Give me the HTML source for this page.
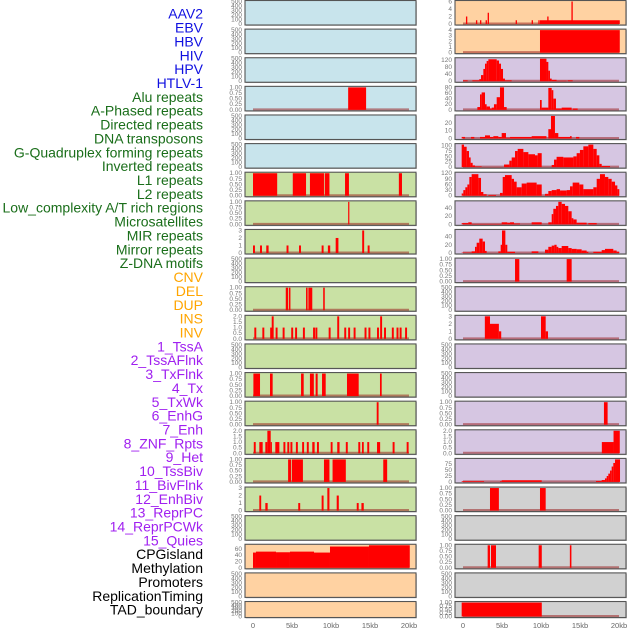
<!DOCTYPE html>
<html><head><meta charset="utf-8"><style>
html,body{margin:0;padding:0;background:#fff;width:630px;height:630px;overflow:hidden}
svg{display:block;font-family:"Liberation Sans",sans-serif}
</style></head><body>
<svg id="chart" width="630" height="630" viewBox="0 0 630 630"></svg>
<script>
const labelNames=["AAV2","EBV","HBV","HIV","HPV","HTLV-1","Alu repeats","A-Phased repeats","Directed repeats","DNA transposons","G-Quadruplex forming repeats","Inverted repeats","L1 repeats","L2 repeats","Low_complexity A/T rich regions","Microsatellites","MIR repeats","Mirror repeats","Z-DNA motifs","CNV","DEL","DUP","INS","INV","1_TssA","2_TssAFlnk","3_TxFlnk","4_Tx","5_TxWk","6_EnhG","7_Enh","8_ZNF_Rpts","9_Het","10_TssBiv","11_BivFlnk","12_EnhBiv","13_ReprPC","14_ReprPCWk","15_Quies","CPGisland","Methylation","Promoters","ReplicationTiming","TAD_boundary"];
const labelColors=["#1010e0","#1010e0","#1010e0","#1010e0","#1010e0","#1010e0","#1a6e1a","#1a6e1a","#1a6e1a","#1a6e1a","#1a6e1a","#1a6e1a","#1a6e1a","#1a6e1a","#1a6e1a","#1a6e1a","#1a6e1a","#1a6e1a","#1a6e1a","#ffa500","#ffa500","#ffa500","#ffa500","#ffa500","#a020f0","#a020f0","#a020f0","#a020f0","#a020f0","#a020f0","#a020f0","#a020f0","#a020f0","#a020f0","#a020f0","#a020f0","#a020f0","#a020f0","#a020f0","#000","#000","#000","#000","#000"];
const xTickValues=[0,5,10,15,20];
const xTickLabels=["0","5kb","10kb","15kb","20kb"];
const emptyTicks=[0,100,200,300,400,500];
const unitTicks=[0,0.25,0.5,0.75,1];
// segments: [startKb, endKb, value]
const hivSegments=[[12.2,14.5,1]];
const aluSegments=[[0,3.1,1],[5.1,6.8,1],[7.3,9.1,1],[9.2,9.8,1],[11.8,12.3,1],[18.7,19.1,1]];
const aphasedSegments=[[12.2,12.35,1]];
const directedTicks=[0,1,2,3];
const directedSegments=[[0,0.25,1],[0.9,1.15,1],[1.7,2,1],[4.3,4.55,1],[5.9,6.15,1],[8.8,9.05,1],[9.6,9.9,1],[10.6,10.95,2],[14,14.25,3],[14.7,14.95,1]];
const gquadSegments=[[4.2,4.5,1],[4.6,4.8,1],[6.8,7,1],[7.1,7.6,1],[9,9.2,1]];
const invertedTicks=[0,0.5,1,1.5,2];
const invertedStarts=[0.17,1.2,2.2,2.4,2.9,3.8,4.9,5.4,6.4,7.7,8,9.7,10.8,11.7,12.2,12.9,14.3,14.8,15.9,16.3,16.8,17.8,18.4,18.8,19.5];
const invertedValues=[1,1,1,2,1,1,1,1,1,1,1,1,2,1,1,1,1,1,1,2,1,1,1,1,1];
const l2Segments=[[0.05,0.9,1],[2.18,2.52,1],[6.16,6.5,1],[7.3,7.8,1],[8.03,8.29,1],[8.85,9.32,1],[12.05,13.55,1],[16.28,16.5,1]];
const lowcSegments=[[15.86,16.1,1]];
const microTicks=[0,0.5,1,1.5,2];
const microSegments=[[0.1,0.35,1],[0.81,1.24,1],[1.58,1.84,1],[1.84,2.27,2],[2.27,2.4,1],[2.86,3.38,1],[3.9,4.15,1],[4.4,4.65,1],[4.8,5.05,1],[5.5,5.75,1],[6.3,6.55,1],[6.9,7.15,1],[7.6,7.9,1],[8.2,8.45,1],[9.96,10.2,1],[10.8,11.1,1],[11.9,12.15,1],[13.5,13.75,1],[13.97,14.2,1],[14.65,14.9,1],[15.9,16.3,1],[17.9,18.15,1],[19.7,19.95,1]];
const mirSegments=[[4.5,4.9,1],[5,6.4,1],[9.1,9.8,1],[10.2,11.9,1],[16.7,17.2,1]];
const mirrorTicks=[0,1,2,3];
const mirrorSegments=[[0.81,1.05,2],[1.58,1.88,1],[5.8,6.05,1],[8.8,9.05,2],[9.53,9.8,3],[10.73,11,2],[13.3,13.55,1],[13.9,14.2,1]];
const cnvTicks=[0,20,40,60];
const cnvSegments=[[0,0.38,48],[0.38,2.95,51],[2.95,4.74,49],[4.74,7.82,51],[7.82,9.87,48],[9.87,14.87,67],[14.87,20.1,71]];
const insTicks=[0,2,4,6];
const insSegments=[[9.87,20.1,1],[0.38,0.55,2],[1.66,1.83,1],[2.18,2.35,1],[2.9,3.07,1],[3.16,3.33,3],[6.75,6.92,1],[8.8,8.97,1],[9.66,9.83,1],[10.8,10.97,2],[13.9,14.07,6]];
const invTicks=[0,1,2,3,4];
const invSegments=[[9.87,20.1,4]];
const tssaTicks=[0,40,80,120];
const tssaSegments=[[0,0.6,5],[1.2,2.09,5],[2.09,2.31,12],[2.31,2.61,35],[2.61,2.82,70],[2.82,3.03,100],[3.03,3.25,115],[3.25,4.32,125],[4.32,4.62,118],[4.62,4.87,100],[4.87,5.13,70],[5.13,5.38,15],[5.38,6.24,5],[9.87,10.7,128],[10.7,10.94,110],[10.94,11.15,60],[11.15,11.37,15],[11.37,12,8],[12,13.29,3],[13.42,14.06,5]];
const tssaflnkTicks=[0,20,40,60,80];
const tssaflnkSegments=[[1.84,2.18,10],[2.18,2.39,55],[2.39,2.82,62],[2.82,3.03,20],[3.03,3.46,12],[3.46,3.68,5],[3.68,3.97,8],[3.97,4.32,20],[4.32,4.74,45],[4.74,5.26,80],[5.26,5.6,10],[9.87,10.09,35],[10.09,10.94,8],[10.94,11.37,78],[11.37,11.58,70],[11.58,11.92,40],[11.92,12.65,5],[12.65,13.93,8],[14.06,14.7,5]];
const txflnkTicks=[0,10,20];
const txflnkSegments=[[-0.17,0.26,2],[1.03,1.45,2],[2.18,2.82,2],[2.82,3.46,4],[3.46,3.89,2],[3.89,4.53,3],[4.53,4.96,2],[4.96,5.51,7],[5.51,6.03,1],[6.03,8.8,2],[8.8,10.7,3],[10.94,11.28,12],[11.28,11.79,29],[11.79,12.22,7],[12.22,13.72,2],[13.72,13.93,3],[14.49,14.91,2]];
const txTicks=[0,25,50,75,100];
const txSegments=[[-0.17,0.13,105],[0.13,0.47,95],[0.47,0.77,75],[0.77,0.98,45],[0.98,1.24,20],[1.24,1.54,8],[1.54,2.39,3],[2.39,5.17,0.5],[5.26,5.94,12],[5.94,6.24,30],[6.24,6.67,45],[6.67,7.01,75],[7.01,7.74,85],[7.74,8.38,70],[8.38,9.23,60],[9.23,9.57,55],[9.57,10.09,65],[11.37,11.67,10],[11.67,12,35],[12,12.86,48],[12.86,14.15,45],[14.15,14.57,50],[14.57,14.99,65],[14.99,15.43,80],[15.43,16.07,97],[16.07,16.71,105],[16.71,17.14,85],[17.14,17.48,55],[17.48,17.78,15],[17.78,18.85,5]];
const txwkTicks=[0,30,60,90,120];
const txwkSegments=[[-0.17,0.04,12],[0.04,0.3,30],[0.3,0.56,45],[0.56,0.81,60],[0.81,1.11,100],[1.11,1.97,115],[1.97,2.31,95],[2.31,2.61,20],[2.61,3.03,8],[3.25,4.23,4],[4.74,5.09,15],[5.09,5.38,100],[5.38,6.24,110],[6.24,6.54,90],[6.54,6.88,75],[6.88,7.52,45],[7.52,8.16,65],[8.16,9.44,70],[9.44,10.09,60],[10.51,10.94,10],[10.94,11.37,25],[11.37,12,30],[12,12.44,35],[12.44,13.29,28],[13.29,13.72,30],[13.72,14.06,50],[14.06,14.91,70],[14.91,15.43,60],[15.43,16.71,35],[16.71,17.14,45],[17.14,17.56,90],[17.56,18.2,115],[18.2,18.63,100],[18.63,19.06,90],[19.06,19.49,75],[19.49,19.79,55],[19.79,20.04,35]];
const enhgTicks=[0,20,40];
const enhgSegments=[[-0.17,0.68,3],[0.68,1.11,5],[1.11,4.96,1],[4.96,5.68,5],[5.68,6.03,4],[6.03,6.54,5],[6.54,7.31,2],[8.8,10.09,5],[10.94,11.37,5],[11.37,11.58,25],[11.58,11.92,38],[11.92,12.22,45],[12.22,12.65,55],[12.65,13.08,50],[13.08,13.5,45],[13.5,13.93,32],[13.93,14.15,15],[14.15,14.57,12],[14.57,15.85,4],[16.07,17.14,3]];
const enhTicks=[0,20,40];
const enhSegments=[[-0.17,1.11,1],[1.11,1.54,4],[1.54,1.75,15],[1.75,2.09,25],[2.09,2.52,35],[2.52,2.82,28],[2.82,3.03,5],[4.53,4.83,4],[4.83,5,20],[5,5.43,55],[5.43,5.68,20],[5.68,6.67,3],[8.8,9.66,4],[10.51,10.94,8],[10.94,11.37,15],[11.37,11.71,18],[11.71,12,20],[12,12.22,15],[12.22,12.65,12],[12.65,13.5,17],[13.5,13.93,12],[13.93,14.57,10],[14.57,15.21,9],[15.21,15.85,6],[15.85,16.07,3],[16.71,17.78,3],[17.78,18.2,7],[18.2,19.27,10],[19.27,19.7,6],[19.7,20.04,3]];
const znfSegments=[[6.67,7.22,1],[13.29,13.93,1]];
const tssbivTicks=[0,1,2,3];
const tssbivSegments=[[2.8,3.46,3],[3.46,4.6,2],[4.6,4.9,1],[10,10.6,3],[10.6,10.9,1]];
const reprpcSegments=[[18.07,18.54,1]];
const reprpcwkTicks=[0,0.5,1,1.5,2];
const reprpcwkSegments=[[17.8,19.3,1],[19.3,20.1,2]];
const quiesTicks=[0,25,50,75];
const quiesSegments=[[-0.17,2.7,3],[4.74,4.96,3],[4.96,10.09,7],[17.05,17.78,4],[17.78,18.2,8],[18.2,18.42,15],[18.42,18.63,25],[18.63,18.85,35],[18.85,19.06,48],[19.06,19.27,65],[19.27,19.49,80],[19.49,20.13,95]];
const cpgSegments=[[3.46,4.6,1],[9.87,10.6,1]];
const promoterSegments=[[3.16,3.46,1],[3.59,4.23,1],[9.7,10.1,1],[13.7,13.9,1]];
const tadSegments=[[-0.17,10.1,1]];

const BLUE="#c8e4ec",GREEN="#c9e1a4",ORANGE="#ffd2a2",PURPLE="#d6c6e2",GREY="#d1d1d1";
const leftPanels=[
["aav2",BLUE,emptyTicks,null],["ebv",BLUE,emptyTicks,null],["hbv",BLUE,emptyTicks,null],["hiv",BLUE,unitTicks,hivSegments],["hpv",BLUE,emptyTicks,null],["htlv-1",BLUE,emptyTicks,null],
["alu-repeats",GREEN,unitTicks,aluSegments],["a-phased-repeats",GREEN,unitTicks,aphasedSegments],["directed-repeats",GREEN,directedTicks,directedSegments],["dna-transposons",GREEN,emptyTicks,null],["g-quadruplex",GREEN,unitTicks,gquadSegments],
["inverted-repeats",GREEN,invertedTicks,invertedStarts.map((s,i)=>[s,s+0.25,invertedValues[i]])],["l1-repeats",GREEN,emptyTicks,null],["l2-repeats",GREEN,unitTicks,l2Segments],["low-complexity",GREEN,unitTicks,lowcSegments],["microsatellites",GREEN,microTicks,microSegments],
["mir-repeats",GREEN,unitTicks,mirSegments],["mirror-repeats",GREEN,mirrorTicks,mirrorSegments],["z-dna-motifs",GREEN,emptyTicks,null],["cnv",ORANGE,cnvTicks,cnvSegments],["del",ORANGE,emptyTicks,null],["dup",ORANGE,emptyTicks,null]];
const rightPanels=[
["ins",ORANGE,insTicks,insSegments],["inv",ORANGE,invTicks,invSegments],["tssa",PURPLE,tssaTicks,tssaSegments],["tssaflnk",PURPLE,tssaflnkTicks,tssaflnkSegments],["txflnk",PURPLE,txflnkTicks,txflnkSegments],["tx",PURPLE,txTicks,txSegments],["txwk",PURPLE,txwkTicks,txwkSegments],["enhg",PURPLE,enhgTicks,enhgSegments],["enh",PURPLE,enhTicks,enhSegments],["znf-rpts",PURPLE,unitTicks,znfSegments],["het",PURPLE,emptyTicks,null],["tssbiv",PURPLE,tssbivTicks,tssbivSegments],["bivflnk",PURPLE,emptyTicks,null],["enhbiv",PURPLE,emptyTicks,null],["reprpc",PURPLE,unitTicks,reprpcSegments],["reprpcwk",PURPLE,reprpcwkTicks,reprpcwkSegments],["quies",PURPLE,quiesTicks,quiesSegments],["cpgisland",GREY,unitTicks,cpgSegments],["methylation",GREY,emptyTicks,null],["promoters",GREY,unitTicks,promoterSegments],["replication-timing",GREY,emptyTicks,null],["tad-boundary",GREY,unitTicks,tadSegments]];

const NS="http://www.w3.org/2000/svg";
const svg=document.getElementById("chart");
function mk(tag,attrs,parent){const e=document.createElementNS(NS,tag);for(const k in attrs)e.setAttribute(k,attrs[k]);(parent||svg).appendChild(e);return e;}

labelNames.forEach((n,i)=>{
  const t=mk("text",{x:203,y:15+i*13.86,"text-anchor":"end","dominant-baseline":"middle","font-size":"14",fill:labelColors[i]});
  t.textContent=n;
  
  
});

function drawColumn(panels,px0,zeroX){
  const pw=171;
  const xs=kb=>zeroX+kb*7.8;
  panels.forEach((p,i)=>{
    const [name,bg,ticks,segs]=p;
    const top=0.5+i*28.62, h=(i===21)?16:24.5, bottom=top+h;
    const g=mk("g",{});
    
    
    mk("rect",{x:px0+0.8,y:top+0.8,width:pw,height:h,fill:"#aaa"},g);
    mk("rect",{x:px0,y:top,width:pw,height:h,fill:bg,stroke:"#555","stroke-width":"1.1"},g);
    let dmax=ticks[ticks.length-1];
    if(segs)segs.forEach(s=>{if(s[2]>dmax)dmax=s[2];});
    const ys=v=>bottom-1-v/dmax*(h-2);
    ticks.forEach(tv=>{
      const t=mk("text",{x:px0-3,y:ys(tv)+2,"text-anchor":"end","font-size":"6.5",fill:"#777"},g);
      t.textContent=(ticks===unitTicks)?tv.toFixed(2):(ticks===invertedTicks||ticks===microTicks||ticks===reprpcwkTicks)?tv.toFixed(1):String(tv);
      
      
    });
    if(segs){
      mk("line",{x1:xs(0),x2:xs(20),y1:bottom-1.5,y2:bottom-1.5,stroke:"rgba(150,20,20,0.5)","stroke-width":"2"},g);
      segs.forEach(s=>{
        const x1=Math.max(px0+1,xs(s[0])),x2=Math.min(px0+pw-1,xs(s[1]));
        const r=mk("rect",{x:x1,y:ys(s[2]),width:Math.max(1.2,x2-x1),height:bottom-1-ys(s[2]),fill:"#ff0000"},g);
        
        
      });
    }
  });
  xTickValues.forEach((v,i)=>{
    const t=mk("text",{x:xs(v),y:628,"text-anchor":"middle","font-size":"7.5",fill:"#666"});
    t.textContent=xTickLabels[i];
    
    
  });
}
drawColumn(leftPanels,245,253);
drawColumn(rightPanels,455,463);
</script>
</body></html>
